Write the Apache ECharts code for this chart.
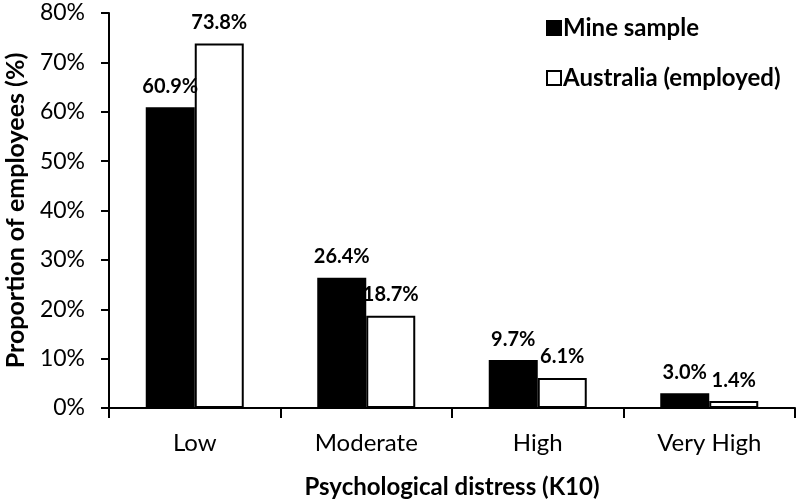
<!DOCTYPE html>
<html>
<head>
<meta charset="utf-8">
<script src="https://cdn.jsdelivr.net/npm/echarts@6/dist/echarts.min.js"></script>
<style>
  html, body { margin: 0; padding: 0; background: #fff; }
  #main { width: 800px; height: 499px; }
</style>
</head>
<body>
<div id="main"></div>
<script>
  // K10 categories and proportions (%)
  var categories = ['Low', 'Moderate', 'High', 'Very High'];
  var mineSample = [60.9, 26.4, 9.7, 3.0];
  var australia = [73.8, 18.7, 6.1, 1.4];
  var yTicks = [0, 10, 20, 30, 40, 50, 60, 70, 80];

  var font = 'Lato, "Open Sans", sans-serif';

  var chart = echarts.init(document.getElementById('main'));

  function barLabel() {
    return {
      show: true,
      position: 'top',
      distance: 11,
      color: '#000',
      fontFamily: font,
      fontWeight: 'bold',
      fontSize: 20,
      formatter: function (p) { return p.value.toFixed(1) + '%'; }
    };
  }

  chart.setOption({
    animation: false,
    textStyle: { fontFamily: font },
    grid: { left: 109, right: 5, top: 13, bottom: 91, containLabel: false, outerBoundsMode: 'none' },
    legend: {
      orient: 'vertical',
      left: 541,
      top: 11,
      itemWidth: 14,
      itemHeight: 14,
      itemGap: 26,
      selectedMode: false,
      textStyle: { fontFamily: font, fontWeight: 'bold', fontSize: 24, color: '#000', padding: [0, 0, 0, -3] },
      data: [
        { name: 'Mine sample', icon: 'rect' },
        { name: 'Australia (employed)', icon: 'rect' }
      ]
    },
    xAxis: {
      type: 'category',
      data: categories,
      name: 'Psychological distress (K10)',
      nameLocation: 'middle',
      nameGap: 67,
      nameTextStyle: { fontFamily: font, fontWeight: 'bold', fontSize: 24, color: '#000' },
      axisLine: { lineStyle: { color: '#000', width: 2 } },
      axisTick: { show: true, length: 10, lineStyle: { color: '#000', width: 2 } },
      axisLabel: { color: '#000', fontSize: 24, margin: 23, fontFamily: font }
    },
    yAxis: {
      type: 'value',
      min: yTicks[0],
      max: yTicks[yTicks.length - 1],
      interval: 10,
      name: 'Proportion of employees (%)',
      nameLocation: 'middle',
      nameGap: 81,
      nameTextStyle: { fontFamily: font, fontWeight: 'bold', fontSize: 25, color: '#000' },
      axisLine: { show: true, lineStyle: { color: '#000', width: 2 } },
      axisTick: { show: true, length: 8, lineStyle: { color: '#000', width: 2 } },
      splitLine: { show: false },
      axisLabel: { color: '#000', fontSize: 23, margin: 24, fontFamily: font, formatter: '{value}%' }
    },
    series: [
      {
        name: 'Mine sample',
        type: 'bar',
        data: mineSample,
        barWidth: 49,
        barGap: '0%',
        itemStyle: { color: '#000', borderColor: '#000', borderWidth: 1.5 },
        label: barLabel()
      },
      {
        name: 'Australia (employed)',
        type: 'bar',
        data: australia,
        barWidth: 49,
        itemStyle: { color: '#fff', borderColor: '#000', borderWidth: 2 },
        label: barLabel()
      }
    ]
  });
</script>
</body>
</html>
